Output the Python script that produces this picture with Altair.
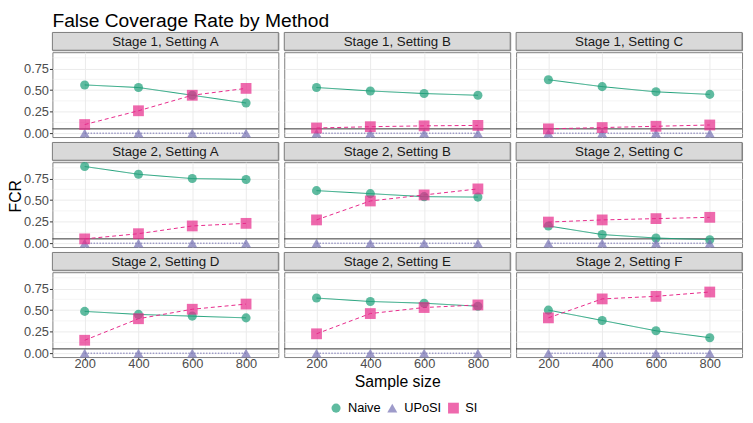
import altair as alt
import pandas as pd

FONT = "Liberation Sans"

SIZES = [200, 400, 600, 800]
METHODS = ["Naive", "UPoSI", "SI"]
COLORS = ["#1B9E77", "#7570B3", "#E7298A"]

PANEL_TITLES = [
    "Stage 1, Setting A", "Stage 1, Setting B", "Stage 1, Setting C",
    "Stage 2, Setting A", "Stage 2, Setting B", "Stage 2, Setting C",
    "Stage 2, Setting D", "Stage 2, Setting E", "Stage 2, Setting F",
]

NAIVE_S1A = [0.56, 0.53, 0.44, 0.35]
SI_S1A = [0.10, 0.26, 0.44, 0.52]
NAIVE_S1B = [0.53, 0.49, 0.46, 0.44]
SI_S1B = [0.06, 0.075, 0.085, 0.09]
NAIVE_S1C = [0.62, 0.54, 0.48, 0.45]
SI_S1C = [0.05, 0.065, 0.08, 0.095]
NAIVE_S2A = [0.89, 0.80, 0.75, 0.74]
SI_S2A = [0.05, 0.11, 0.20, 0.23]
NAIVE_S2B = [0.61, 0.575, 0.54, 0.535]
SI_S2B = [0.27, 0.49, 0.56, 0.63]
NAIVE_S2C = [0.20, 0.10, 0.06, 0.04]
SI_S2C = [0.245, 0.27, 0.285, 0.30]
NAIVE_S2D = [0.485, 0.45, 0.43, 0.41]
SI_S2D = [0.15, 0.40, 0.51, 0.57]
NAIVE_S2E = [0.64, 0.60, 0.58, 0.545]
SI_S2E = [0.225, 0.46, 0.53, 0.56]
NAIVE_S2F = [0.50, 0.38, 0.26, 0.18]
SI_S2F = [0.41, 0.63, 0.66, 0.71]
UPOSI = [0.0, 0.0, 0.0, 0.0]

NAIVE_ALL = [NAIVE_S1A, NAIVE_S1B, NAIVE_S1C, NAIVE_S2A, NAIVE_S2B,
             NAIVE_S2C, NAIVE_S2D, NAIVE_S2E, NAIVE_S2F]
SI_ALL = [SI_S1A, SI_S1B, SI_S1C, SI_S2A, SI_S2B, SI_S2C, SI_S2D, SI_S2E, SI_S2F]

Y_TICKS = [0.0, 0.25, 0.50, 0.75]
MINOR_GRID = [0.125, 0.375, 0.625, 0.875]
NOMINAL = [0.05]

W = 229
PH = 86
SH = 18

color_scale = alt.Scale(domain=METHODS, range=COLORS)
shape_scale = alt.Scale(domain=METHODS, range=["circle", "triangle-up", "square"])
dash_scale = alt.Scale(domain=METHODS, range=[[1, 0], [1.5, 1.5], [4, 3]])
size_scale = alt.Scale(domain=METHODS, range=[85, 120, 85])
y_scale = alt.Scale(domain=[-0.045, 0.94], nice=False, zero=False)
x_scale = alt.Scale(domain=SIZES, padding=0.6)

legend = alt.Legend(title=None, orient="none", direction="horizontal",
                    legendX=281, legendY=374, labelFontSize=13, labelFont=FONT,
                    labelColor="#000000", symbolSize=110, symbolOpacity=0.7,
                    columnPadding=5, labelOffset=5.5, symbolStrokeWidth=0)


def make_panel(idx):
    row, col = divmod(idx, 3)
    title = PANEL_TITLES[idx]
    n = SIZES * 3
    method = ["Naive"] * 4 + ["UPoSI"] * 4 + ["SI"] * 4
    fcr = NAIVE_ALL[idx] + UPOSI + SI_ALL[idx]
    df = pd.DataFrame({"n": n, "method": method, "fcr": fcr})

    bottom = row == 2
    left = col == 0

    xa = dict(grid=True, labelAngle=0, labels=bottom, ticks=bottom,
              labelPadding=-2.5, tickSize=3)
    if bottom and col == 1:
        xa["title"] = "Sample size"
        xa["titlePadding"] = 3
    else:
        xa["title"] = None
    ya = dict(grid=True, values=Y_TICKS, format=".2f", labels=left, ticks=left,
              labelPadding=1, tickSize=3)
    if left and row == 1:
        ya["title"] = "FCR"
        ya["titleY"] = 34
        ya["titlePadding"] = 0
    else:
        ya["title"] = None

    x_enc = alt.X("n:O", scale=x_scale, axis=alt.Axis(**xa))
    y_enc = alt.Y("fcr:Q", scale=y_scale, axis=alt.Axis(**ya))
    c_enc = alt.Color("method:N", scale=color_scale, legend=legend)

    minor = alt.Chart(pd.DataFrame({"fcr": MINOR_GRID})).mark_rule(
        color="#EBEBEB", strokeWidth=0.5).encode(y=y_enc)
    hline = alt.Chart(pd.DataFrame({"fcr": NOMINAL})).mark_rule(
        color="#333333", strokeWidth=1).encode(y=y_enc)
    base = alt.Chart(df)
    lines = base.mark_line(strokeWidth=1).encode(
        x=x_enc, y=y_enc, color=c_enc,
        strokeDash=alt.StrokeDash("method:N", scale=dash_scale, legend=None),
    )
    points = base.mark_point(filled=True, opacity=0.7).encode(
        x=x_enc, y=y_enc, color=c_enc,
        shape=alt.Shape("method:N", scale=shape_scale, legend=legend),
        size=alt.Size("method:N", scale=size_scale, legend=None),
    )
    plot = alt.layer(minor, hline, lines, points).properties(width=W, height=PH)

    sdf = pd.DataFrame({"label": [title]})
    strip_bg = alt.Chart(sdf).mark_rect(fill="#D9D9D9", stroke="#7F7F7F",
                                        strokeWidth=1).encode(
        x=alt.value(0), x2=alt.value(W), y=alt.value(0), y2=alt.value(SH))
    strip_tx = alt.Chart(sdf).mark_text(fontSize=13.5, font=FONT,
                                        color="#1A1A1A").encode(
        x=alt.value(W / 2), y=alt.value(SH / 2 + 0.5), text="label:N")
    strip = alt.layer(strip_bg, strip_tx).properties(width=W, height=SH)
    return alt.vconcat(strip, plot, spacing=0)


panels = [make_panel(i) for i in range(9)]

chart = alt.concat(*panels, columns=3, spacing={"row": 0.5, "column": 4}).properties(
    title=alt.TitleParams("False Coverage Rate by Method", anchor="start",
                          frame="group", fontSize=19.5, font=FONT,
                          fontWeight="normal", color="#000000", offset=0),
    padding={"left": -1, "top": 0, "right": 2, "bottom": 2},
).configure_view(
    stroke="#7F7F7F", strokeWidth=1
).configure_axis(
    labelFont=FONT, titleFont=FONT, labelColor="#4D4D4D", labelFontSize=13,
    titleFontSize=16, titleFontWeight="normal", titleColor="#000000",
    tickColor="#333333", gridColor="#EBEBEB", gridWidth=1, domain=False,
)

chart.save("out.html", embed_options={"renderer": "svg", "actions": False})
